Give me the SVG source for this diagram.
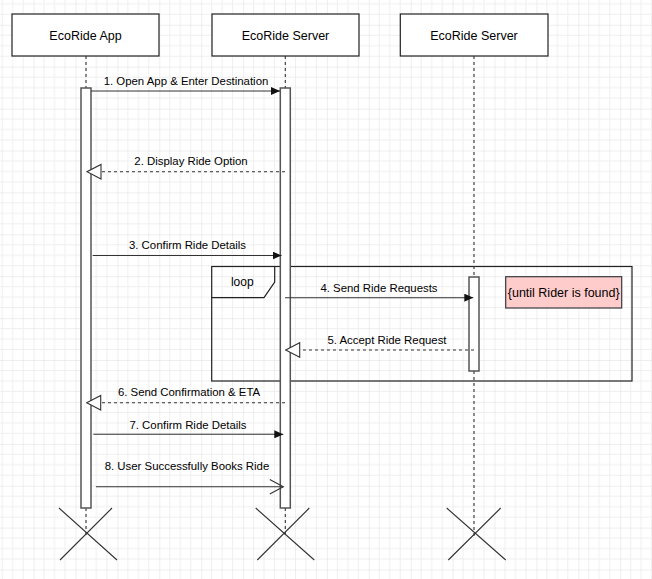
<svg xmlns="http://www.w3.org/2000/svg" width="652" height="579" viewBox="0 0 652 579">
  <defs>
    <pattern id="grid" patternUnits="userSpaceOnUse" x="33.6" y="24.8" width="41.9" height="41.9">
      <path d="M10.475,0 V41.9 M20.95,0 V41.9 M31.425,0 V41.9 M0,10.475 H41.9 M0,20.95 H41.9 M0,31.425 H41.9" stroke="#efefef" stroke-width="1" fill="none"/>
      <path d="M0,0 V41.9 M0,0 H41.9" stroke="#dedede" stroke-width="1" fill="none"/>
    </pattern>
    <marker id="filled" markerUnits="userSpaceOnUse" viewBox="0 0 9 8" refX="9" refY="4" markerWidth="9" markerHeight="8" orient="auto">
      <path d="M0,0 L9,4 L0,8 z" fill="#111"/>
    </marker>
    <marker id="openTri" markerUnits="userSpaceOnUse" viewBox="-1 -1 16 17" refX="14" refY="7.3" markerWidth="16" markerHeight="17" orient="auto">
      <path d="M0,0 L14,7.3 L0,14.6 z" fill="#fff" stroke="#333" stroke-width="1.1"/>
    </marker>
    <marker id="openLine" markerUnits="userSpaceOnUse" viewBox="-1 -1 16 17" refX="13.5" refY="7.3" markerWidth="16" markerHeight="17" orient="auto">
      <path d="M0,0 L13.5,7.3 L0,14.6" fill="none" stroke="#333" stroke-width="1.1"/>
    </marker>
  </defs>
  <style>
    .hdr { fill: #fff; stroke: #222; stroke-width: 1.2; }
    .hdrText { font-family: "Liberation Sans", Arial, sans-serif; font-size: 12.5px; fill: #000; text-anchor: middle; }
    .life { stroke: #333; stroke-width: 1.1; stroke-dasharray: 3 3; fill: none; }
    .act { fill: #fff; stroke: #555; stroke-width: 1.5; }
    .msg { stroke: #333; stroke-width: 1.1; fill: none; }
    .ret { stroke: #333; stroke-width: 1.1; stroke-dasharray: 3 3; fill: none; }
    .lbl { font-family: "Liberation Sans", Arial, sans-serif; font-size: 11.4px; fill: #000; text-anchor: middle; }
    .x { stroke: #333; stroke-width: 1.1; fill: none; }
    .frame { fill: none; stroke: #222; stroke-width: 1.2; }
  </style>
  <rect x="0" y="0" width="652" height="579" fill="#fff"/>
  <rect x="0" y="0" width="652" height="579" fill="url(#grid)"/>

  <g id="loop-frame">
    <rect class="frame" x="211.7" y="266.5" width="420.3" height="114.5"/>
    <path class="frame" d="M211.7,297.7 H264 L274.7,282 V266.5"/>
    <text class="lbl" x="242.3" y="285.7" style="font-size:12px">loop</text>
  </g>

  <g id="lifeline-app">
    <rect class="hdr" x="12" y="14" width="147" height="42"/>
    <text class="hdrText" x="85.5" y="39.5">EcoRide App</text>
    <path class="life" d="M86,56 V88 M86,508 V538"/>
    <rect class="act" x="81" y="88" width="10" height="420"/>
    <path class="x" d="M59,508 L117,560 M112,508 L60,560"/>
  </g>

  <g id="lifeline-server1">
    <rect class="hdr" x="212" y="14" width="147" height="42"/>
    <text class="hdrText" x="285.5" y="39.5">EcoRide Server</text>
    <path class="life" d="M285.3,56 V88 M285.3,508 V538"/>
    <rect class="act" x="280.3" y="88" width="10" height="420"/>
    <path class="x" d="M255.7,508 L314.3,560 M309.3,508 L257.3,560"/>
  </g>

  <g id="lifeline-server2">
    <rect class="hdr" x="400.3" y="14" width="147.7" height="42"/>
    <text class="hdrText" x="474" y="39.5">EcoRide Server</text>
    <path class="life" d="M474,56 V277 M474,371 V537"/>
    <rect class="act" x="469" y="277" width="10" height="94"/>
    <path class="x" d="M446.7,508 L505.7,560 M500.7,508 L448.3,560"/>
  </g>

  <g id="note">
    <rect x="505.7" y="276.7" width="116" height="31.3" fill="#ffcccc" stroke="#36393d" stroke-width="1.2"/>
    <text class="hdrText" x="563.7" y="296.5">{until Rider is found}</text>
  </g>

  <g id="connectors">
    <path class="msg" d="M91,91 H280" marker-end="url(#filled)"/>
    <text class="lbl" x="186" y="84.5">1. Open App &amp; Enter Destination</text>

    <path class="ret" d="M285,171.7 H87" marker-end="url(#openTri)"/>
    <text class="lbl" x="191" y="164.8">2. Display Ride Option</text>

    <path class="msg" d="M92.7,255.5 H281.5" marker-end="url(#filled)"/>
    <text class="lbl" x="187.5" y="249">3. Confirm Ride Details</text>

    <path class="msg" d="M285,297.7 H473.3" marker-end="url(#filled)"/>
    <text class="lbl" x="379" y="291.7">4. Send Ride Requests</text>

    <path class="ret" d="M474,350 H285.7" marker-end="url(#openTri)"/>
    <text class="lbl" x="387" y="344">5. Accept Ride Request</text>

    <path class="ret" d="M285,402.7 H86.7" marker-end="url(#openTri)"/>
    <text class="lbl" x="189" y="395.7">6. Send Confirmation &amp; ETA</text>

    <path class="msg" d="M93.3,434.3 H283.3" marker-end="url(#filled)"/>
    <text class="lbl" x="188" y="429">7. Confirm Ride Details</text>

    <path class="msg" d="M96,486.7 H283.3" marker-end="url(#openLine)"/>
    <text class="lbl" x="187" y="470">8. User Successfully Books Ride</text>
  </g>
</svg>
